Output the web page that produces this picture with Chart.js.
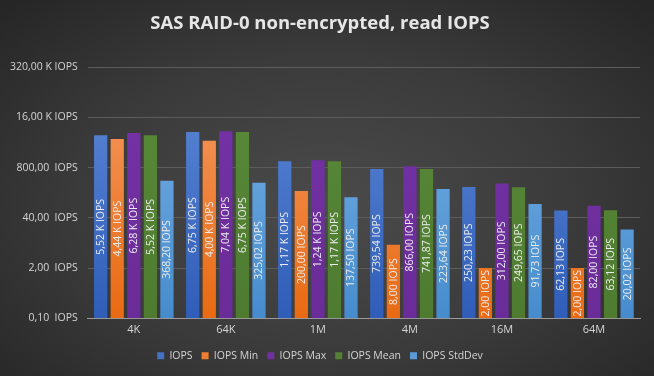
<!DOCTYPE html>
<html>
<head>
<meta charset="utf-8">
<script src="https://cdn.jsdelivr.net/npm/chart.js@4.4.1/dist/chart.umd.min.js"></script>
<style>
html,body{margin:0;padding:0;}
body{width:654px;height:376px;overflow:hidden;
background:radial-gradient(ellipse 70% 75% at 50% 55%, #4b4b4b 0%, #3a3a3a 55%, #262626 100%);}
#wrap{position:relative;width:654px;height:376px;}
</style>
</head>
<body>
<div id="wrap"><canvas id="c" width="654" height="376"></canvas></div>
<script>
const categories = ["4K", "64K", "1M", "4M", "16M", "64M"];
const seriesNames = ["IOPS", "IOPS Min", "IOPS Max", "IOPS Mean", "IOPS StdDev"];
const iops     = [5520, 6750, 1170, 739.54, 250.23, 62.13];
const iopsMin  = [4440, 4000, 200.00, 8.00, 2.00, 2.00];
const iopsMax  = [6280, 7040, 1240, 866.00, 312.00, 82.00];
const iopsMean = [5520, 6750, 1170, 741.87, 249.65, 63.12];
const iopsStd  = [368.20, 325.02, 137.50, 223.64, 91.73, 20.02];
const tickValues = [0.1, 2, 40, 800, 16000, 320000];
const tickLabels = ["0,10  IOPS", "2,00  IOPS", "40,00  IOPS", "800,00  IOPS", "16,00 K IOPS", "320,00 K IOPS"];

const colorStops = [
  ["#5f8ad8", "#2f5db8"],
  ["#f59c66", "#e96a12"],
  ["#7633a8", "#6a2c98"],
  ["#5a8b3a", "#4e7b30"],
  ["#79b2e6", "#468ccd"]
];
const legendColors = ["#4472c4", "#ed7d31", "#7030a0", "#548235", "#5b9bd5"];
const FONT = '"Open Sans", "DejaVu Sans", sans-serif';

function fmt(v){
  if (v >= 1000) return (v/1000).toFixed(2).replace('.', ',') + ' K IOPS';
  return v.toFixed(2).replace('.', ',') + ' IOPS';
}

function grad(i){
  return function(ctx){
    const ch = ctx.chart; const a = ch.chartArea;
    if (!a) return legendColors[i];
    const g = ch.ctx.createLinearGradient(0, a.top, 0, a.bottom);
    g.addColorStop(0, colorStops[i][0]);
    g.addColorStop(1, colorStops[i][1]);
    return g;
  };
}

const allData = [iops, iopsMin, iopsMax, iopsMean, iopsStd];

const labelPlugin = {
  id: 'barLabels',
  afterDatasetsDraw(chart){
    const ctx = chart.ctx;
    chart.data.datasets.forEach((ds, di) => {
      const meta = chart.getDatasetMeta(di);
      meta.data.forEach((el, i) => {
        const v = ds.data[i];
        const cy = (el.y + el.base) / 2;
        ctx.save();
        ctx.translate(el.x, cy);
        ctx.rotate(-Math.PI/2);
        ctx.font = '10.5px ' + FONT;
        ctx.fillStyle = '#ececec';
        ctx.textAlign = 'center';
        ctx.textBaseline = 'middle';
        ctx.fillText(fmt(v), 0, 0.5);
        ctx.restore();
      });
    });
  }
};

const titleShadow = {
  id: 'titleShadow',
  beforeDraw(chart){
    chart.ctx.save();
  },
  afterDraw(chart){ chart.ctx.restore(); }
};

new Chart(document.getElementById('c'), {
  type: 'bar',
  data: {
    labels: categories,
    datasets: seriesNames.map((n, i) => ({
      label: n,
      data: allData[i],
      backgroundColor: grad(i),
      borderWidth: 0,
      categoryPercentage: 0.9,
      barPercentage: 0.8
    }))
  },
  options: {
    responsive: false,
    animation: false,
    layout: { padding: { left: 0, right: 14, top: 0, bottom: 5 } },
    plugins: {
      title: {
        display: true,
        text: 'SAS RAID-0 non-encrypted, read IOPS',
        color: '#e6e6e6',
        font: { family: FONT, size: 18.5, weight: 'bold' },
        padding: { top: 13, bottom: 32 }
      },
      legend: {
        position: 'bottom',
        labels: {
          color: '#d4d4d4',
          font: { family: FONT, size: 10.5 },
          boxWidth: 7, boxHeight: 7, padding: 9,
          generateLabels(chart){
            return seriesNames.map((n, i) => ({
              text: n, fillStyle: legendColors[i], strokeStyle: legendColors[i],
              lineWidth: 0, datasetIndex: i, fontColor: '#d4d4d4'
            }));
          }
        }
      },
      tooltip: { enabled: false }
    },
    scales: {
      x: {
        grid: { display: false, drawTicks: false },
        border: { display: true, color: '#9a9a9a', width: 1 },
        ticks: { color: '#d4d4d4', font: { family: FONT, size: 11 }, padding: 5 }
      },
      y: {
        type: 'logarithmic',
        min: 0.1,
        max: 320000,
        afterBuildTicks(scale){ scale.ticks = tickValues.map(v => ({ value: v })); },
        grid: { color: '#5c5c5c', lineWidth: 1, drawTicks: false },
        border: { display: false },
        ticks: {
          color: '#d4d4d4',
          font: { family: FONT, size: 10.5 },
          padding: 10,
          callback(value){ const k = tickValues.indexOf(value); return k >= 0 ? tickLabels[k] : ''; }
        }
      }
    }
  },
  plugins: [labelPlugin]
});
</script>
</body>
</html>
